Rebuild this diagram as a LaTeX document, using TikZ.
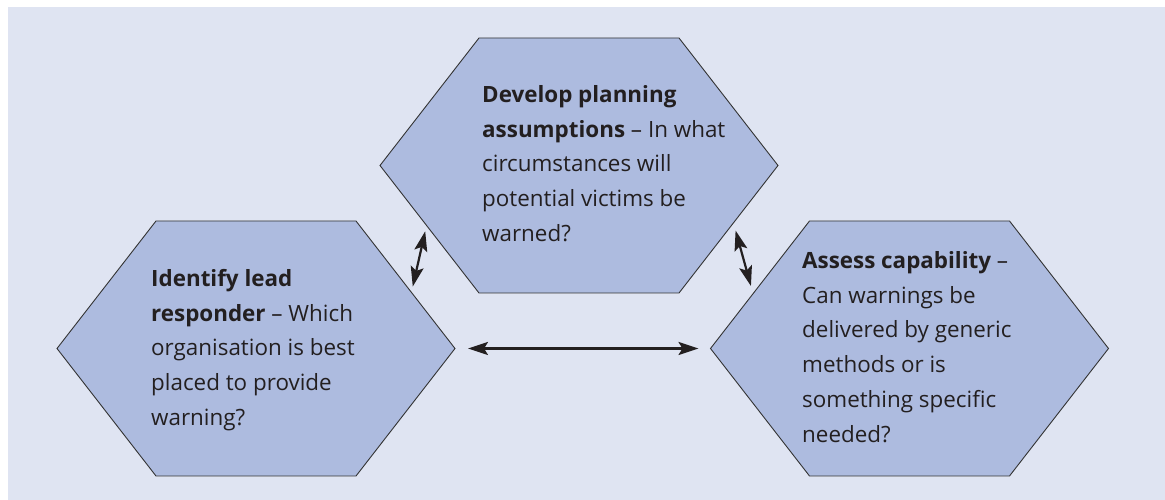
\documentclass[tikz,border=0pt]{standalone}
\usepackage{fontspec}
\setmainfont{Open Sans}
\usetikzlibrary{positioning,arrows.meta,backgrounds,calc}
\definecolor{panelblue}{HTML}{DFE4F2}
\definecolor{hexblue}{HTML}{ADBBDF}
\definecolor{inkgray}{HTML}{231F20}

\begin{document}
\begin{tikzpicture}[x=1pt,y=1pt,
  hexcell/.style={minimum width=398pt,minimum height=255pt,inner sep=0pt,outer sep=0pt},
  hexline/.style={fill=hexblue,draw=black!80,line width=0.9pt,line join=miter},
  celltext/.style={anchor=north west,inner sep=0pt,align=left,text=inkgray,
    font=\fontsize{22.4}{34.7}\selectfont},
  link/.style={<->,>={Stealth[length=20pt,width=13pt,inset=4pt]},line width=2.2pt,draw=inkgray},
  node distance=183pt and 323pt,on grid]
  \useasboundingbox (0,0) rectangle (1165,500);

  \path
  node[hexcell] (lead) at (256,151.5) {}
  node[hexcell] (plan) [above right=of lead] {}
  node[hexcell] (cap) [right=653.5pt of lead] {}
  ;

  \node[celltext] (leadtext) at ([shift={(94,-48)}]lead.north west)
    {\textbf{Identify lead}\\ \textbf{responder} – Which\\ organisation is best\\ placed to provide\\ warning?};
  \node[celltext] (plantext) at ([shift={(102,-47.3)}]plan.north west)
    {\textbf{Develop planning}\\ \textbf{assumptions} – In what\\ circumstances will\\ potential victims be\\ warned?};
  \node[celltext] (captext) at ([shift={(91.5,-30.3)}]cap.north west)
    {\textbf{Assess capability} –\\ Can warnings be\\ delivered by generic\\ methods or is\\ something specific\\ needed?};

  \begin{scope}[on background layer]
    \fill[panelblue] (8,0) rectangle (1165,493);
    \foreach \c in {lead,plan,cap}
      \draw[hexline] (\c.west) -- ([xshift=99pt]\c.north west) -- ([xshift=-99pt]\c.north east)
        -- (\c.east) -- ([xshift=-99pt]\c.south east) -- ([xshift=99pt]\c.south west) -- cycle;
  \end{scope}

  % points on the facing edges
  \coordinate (leadUR) at ($([xshift=-99pt]lead.north east)!0.56!(lead.east)$);
  \coordinate (planLL) at ($(plan.west)!0.47!([xshift=99pt]plan.south west)$);
  \coordinate (planLR) at ($(plan.east)!0.45!([xshift=-99pt]plan.south east)$);
  \coordinate (capUL) at ($([xshift=99pt]cap.north west)!0.57!(cap.west)$);

  \path
  (leadUR) edge[link,shorten <=6pt,shorten >=6pt] (planLL)
  (planLR) edge[link,shorten <=8pt,shorten >=8pt] (capUL)
  (lead.east) edge[link,shorten <=13pt,shorten >=12pt] (cap.west)
  ;
\end{tikzpicture}
\end{document}
